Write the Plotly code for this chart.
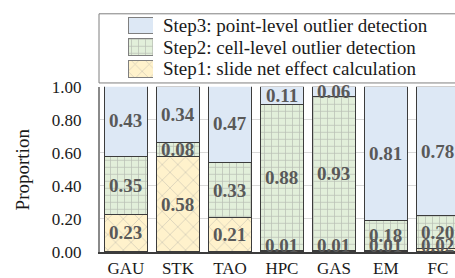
import plotly.graph_objects as go

categories = ["GAU", "STK", "TAO", "HPC", "GAS", "EM", "FC"]
step1 = [0.23, 0.58, 0.21, 0.01, 0.01, 0.01, 0.02]
step2 = [0.35, 0.08, 0.33, 0.88, 0.93, 0.18, 0.20]
step3 = [0.43, 0.34, 0.47, 0.11, 0.06, 0.81, 0.78]
series_names = ["Step1: slide net effect calculation",
                "Step2: cell-level outlier detection",
                "Step3: point-level outlier detection"]
y_ticks = [0.0, 0.2, 0.4, 0.6, 0.8, 1.0]

W, H = 455, 278
ML, MR, MT, MB = 100, 0, 0, 25
PW, PH = W - ML - MR, H - MT - MB
plot_top_px = 81
main_dom_top = (PH - plot_top_px) / PH
leg_top_px, leg_bot_px = 6, 73.5
row_px = (leg_bot_px - leg_top_px) / 3

def py(px):  # pixel y -> paper y
    return (PH - px) / PH

def pxx(px):  # pixel x -> paper x
    return (px - ML) / PW

styles = [
    dict(bg="#fff2cc", fg="#9c9c9c", shape="x", size=11, solidity=0.12),
    dict(bg="#e2efda", fg="#8f8f8f", shape="+", size=7, solidity=0.2),
    dict(bg="#dde8f5", fg="#dde8f5", shape="", size=8, solidity=0.2),
]
series = [step1, step2, step3]
FONT = "Liberation Serif"

fig = go.Figure()
for name, vals, st in zip(series_names, series, styles):
    fig.add_trace(go.Bar(
        x=categories, y=vals, name=name, width=0.83,
        marker=dict(color=st["bg"], line=dict(color="#3c3c3c", width=1),
                    pattern=dict(shape=st["shape"], fgcolor=st["fg"], bgcolor=st["bg"],
                                 size=st["size"], solidity=st["solidity"])),
        showlegend=False, hoverinfo="skip"))

# legend swatches as bars in a small overlay subplot
for i, (name, st) in enumerate(zip(series_names, styles)):
    fig.add_trace(go.Bar(
        x=[1], y=[i], orientation="h", width=0.76, xaxis="x2", yaxis="y2",
        marker=dict(color=st["bg"], line=dict(color="#7f7f7f", width=1),
                    pattern=dict(shape=st["shape"], fgcolor=st["fg"], bgcolor=st["bg"],
                                 size=st["size"] - 1 if st["shape"] == "x" else st["size"],
                                 solidity=st["solidity"])),
        showlegend=False, hoverinfo="skip"))
    fig.add_annotation(text=name, xref="paper", yref="paper", x=pxx(161),
                       y=py(leg_bot_px - (i + 0.5) * row_px),
                       xanchor="left", yanchor="middle", showarrow=False,
                       font=dict(family=FONT, size=19, color="#1a1a1a"))

# value labels
for ci, cat in enumerate(categories):
    base = 0.0
    for vals in series:
        v = vals[ci]
        mid = base + v / 2
        ymid = max(mid, 0.04) if base == 0 else mid
        fig.add_annotation(text="<b>%.2f</b>" % v, x=cat, y=ymid, xref="x", yref="y",
                           showarrow=False, yanchor="middle",
                           font=dict(family=FONT, size=19, color="#595959"))
        base += v

# legend box
fig.add_shape(type="rect", xref="paper", yref="paper",
              x0=pxx(99), x1=1.05, y0=py(77), y1=py(5),
              line=dict(color="#7f7f7f", width=1), fillcolor="rgba(0,0,0,0)")

# y-axis title
fig.add_annotation(text="Proportion", xref="paper", yref="paper", x=pxx(22),
                   y=main_dom_top / 2, textangle=-90, showarrow=False,
                   xanchor="center", yanchor="middle",
                   font=dict(family=FONT, size=19, color="#1a1a1a"))

fig.update_layout(
    width=W, height=H, margin=dict(l=ML, r=MR, t=MT, b=MB),
    barmode="stack", bargap=0.17,
    plot_bgcolor="white", paper_bgcolor="white",
    font=dict(family=FONT, size=17, color="#1a1a1a"),
    xaxis=dict(domain=[0, 1], range=[-0.5, 6.33], showline=True, linecolor="#3c3c3c",
               linewidth=1.5, ticks="", showgrid=False, tickfont=dict(size=17),
               fixedrange=True),
    yaxis=dict(domain=[0, main_dom_top], range=[0, 1], tickvals=y_ticks, tickformat=".2f",
               showline=True, linecolor="#8a8a8a", linewidth=2, gridcolor="#d9d9d9",
               gridwidth=1, zeroline=False, ticks="", ticklabelstandoff=13,
               tickfont=dict(size=17), fixedrange=True),
    xaxis2=dict(domain=[pxx(128), pxx(153)], range=[0, 1], visible=False, anchor="y2",
                fixedrange=True),
    yaxis2=dict(domain=[py(leg_bot_px), py(leg_top_px)], range=[-0.5, 2.5], visible=False,
                anchor="x2", fixedrange=True),
)

fig.write_html("out.html", config={"displayModeBar": False},
               post_script="document.body.style.margin='0';")
